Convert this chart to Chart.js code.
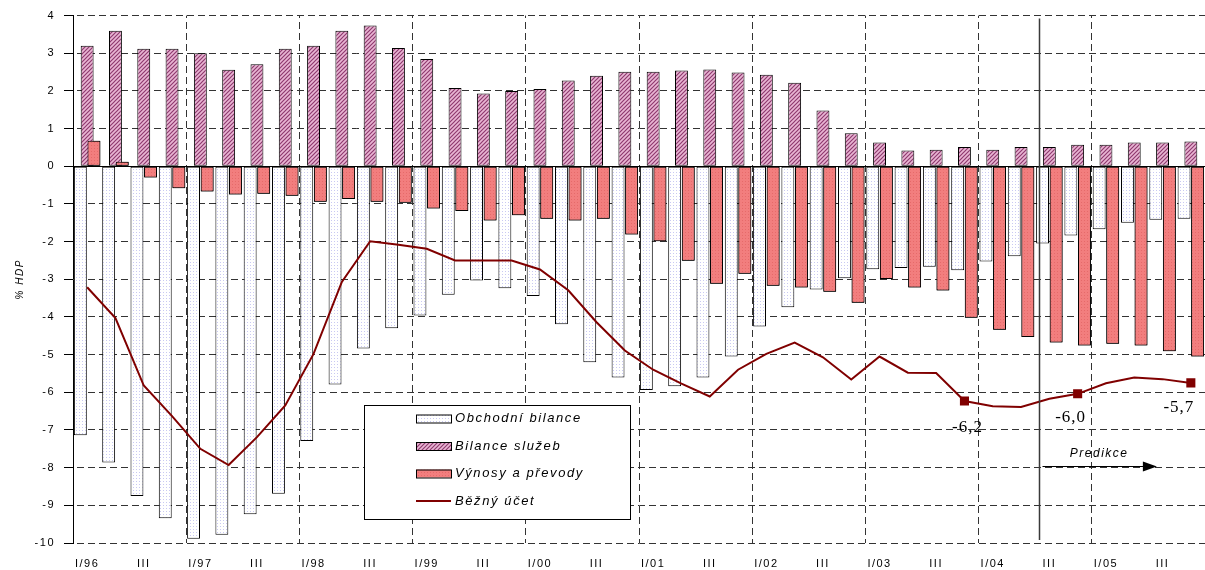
<!DOCTYPE html>
<html>
<head>
<meta charset="utf-8">
<script src="https://cdn.jsdelivr.net/npm/chart.js@4/dist/chart.umd.min.js"></script>
<style>
  html, body { margin: 0; padding: 0; background: #fff; overflow: hidden; }
  #wrap { width: 1205px; height: 570px; overflow: hidden; }
</style>
</head>
<body>
<div id="wrap"><canvas id="chartBilance" width="1212" height="570"></canvas></div>
<script>
// ctvrtleti I/96 - IV/05
const quarterLabels = [
  'I/96', '', 'III', '', 'I/97', '', 'III', '', 'I/98', '', 'III', '',
  'I/99', '', 'III', '', 'I/00', '', 'III', '', 'I/01', '', 'III', '',
  'I/02', '', 'III', '', 'I/03', '', 'III', '', 'I/04', '', 'III', '',
  'I/05', '', 'III', ''
];

const obchodniBilance = [
  -7.14, -7.86, -8.75, -9.34, -9.89, -9.78, -9.24, -8.69, -7.29, -5.79,
  -4.84, -4.30, -3.96, -3.41, -3.03, -3.24, -3.44, -4.19, -5.20, -5.61,
  -5.94, -5.84, -5.61, -5.05, -4.25, -3.74, -3.27, -2.97, -2.73, -2.70,
  -2.67, -2.76, -2.53, -2.39, -2.05, -1.84, -1.67, -1.50, -1.42, -1.39
];

const bilanceSluzeb = [
  3.20, 3.60, 3.12, 3.12, 3.00, 2.56, 2.71, 3.12, 3.20, 3.60,
  3.74, 3.14, 2.85, 2.08, 1.93, 2.00, 2.05, 2.28, 2.40, 2.51,
  2.51, 2.54, 2.57, 2.49, 2.43, 2.22, 1.48, 0.88, 0.63, 0.42,
  0.44, 0.51, 0.44, 0.51, 0.51, 0.57, 0.57, 0.63, 0.63, 0.66
];

const vynosyPrevody = [
  0.68, 0.12, -0.30, -0.58, -0.67, -0.75, -0.73, -0.78, -0.94, -0.87,
  -0.94, -0.97, -1.12, -1.19, -1.44, -1.30, -1.39, -1.44, -1.39, -1.81,
  -1.99, -2.51, -3.12, -2.85, -3.17, -3.22, -3.33, -3.62, -2.99, -3.22,
  -3.30, -4.02, -4.34, -4.53, -4.68, -4.76, -4.71, -4.76, -4.91, -5.05
];

const beznyUcet = [
  -3.21, -4.03, -5.82, -6.63, -7.50, -7.93, -7.19, -6.35, -4.98, -3.07,
  -1.99, -2.08, -2.19, -2.50, -2.50, -2.50, -2.74, -3.29, -4.14, -4.89,
  -5.40, -5.77, -6.11, -5.40, -4.98, -4.68, -5.07, -5.66, -5.05, -5.48,
  -5.49, -6.23, -6.37, -6.39, -6.17, -6.04, -5.76, -5.61, -5.65, -5.75
];

// body s popiskem (rocni hodnoty)
const markedPoints = [31, 35, 39];
const markedTexts = ['-6,2', '-6,0', '-5,7'];

const yTicks = { min: -10, max: 4, step: 1 };
const predictionStart = 33.63; // hranice predikce (index ctvrtleti)
const predictionText = 'Predikce';

const SANS = "'Liberation Sans', Arial, sans-serif";
const SERIF = "'Liberation Serif', 'Times New Roman', serif";

// vzorky vyplni
function makePattern(w, h, bg, draw) {
  const c = document.createElement('canvas');
  c.width = w; c.height = h;
  const g = c.getContext('2d');
  if (bg) {
    g.fillStyle = bg;
    g.fillRect(0, 0, w, h);
  }
  draw(g);
  return g.createPattern(c, 'repeat');
}

const dotsBlue = makePattern(3, 3, '#ffffff', g => {
  g.fillStyle = '#c9c9f2';
  g.fillRect(1, 1, 1, 1);
});

const hatchPink = makePattern(4, 4, '#e9b6d4', g => {
  g.strokeStyle = '#8f3a6f';
  g.lineWidth = 1.2;
  g.beginPath();
  g.moveTo(0, 4); g.lineTo(4, 0);
  g.moveTo(-1, 1); g.lineTo(1, -1);
  g.moveTo(3, 5); g.lineTo(5, 3);
  g.stroke();
});

const dotsRed = makePattern(3, 3, '#f27e7e', g => {
  g.fillStyle = '#e66a6a';
  g.fillRect(1, 1, 1, 1);
});

// carkovane mrizky jako vzorek
const dashH = makePattern(11, 1, null, g => {
  g.fillStyle = '#333';
  g.fillRect(0, 0, 7, 1);
});
const dashV = makePattern(1, 11, null, g => {
  g.fillStyle = '#333';
  g.fillRect(0, 0, 1, 7);
});

const extrasPlugin = {
  id: 'extras',
  beforeDraw(chart) {
    chart.ctx.letterSpacing = '1.5px';
  },
  afterDatasetDraw(chart, args) {
    // vynosy maji byt nad bilanci sluzeb
    if (args.index === 1) chart.getDatasetMeta(2).controller.draw();
  },
  afterDatasetsDraw(chart) {
    const { ctx, chartArea: a, scales: { x, y } } = chart;
    ctx.save();
    // nulova osa
    const y0 = Math.round(y.getPixelForValue(0)) + 0.5;
    ctx.strokeStyle = '#000';
    ctx.lineWidth = 1.2;
    ctx.beginPath();
    ctx.moveTo(a.left, y0);
    ctx.lineTo(a.right, y0);
    ctx.stroke();

    // hranice predikce
    const px = Math.round(x.getPixelForValue(predictionStart)) + 0.5;
    ctx.strokeStyle = '#3a3a3a';
    ctx.lineWidth = 1.5;
    ctx.beginPath();
    ctx.moveTo(px, a.top + 3);
    ctx.lineTo(px, a.bottom - 3);
    ctx.stroke();

    // sipka predikce
    const ay = Math.round(y.getPixelForValue(-7.95)) + 0.5;
    const ax2 = x.getPixelForValue(37.8);
    ctx.strokeStyle = '#000';
    ctx.lineWidth = 1;
    ctx.beginPath();
    ctx.moveTo(px + 3, ay);
    ctx.lineTo(ax2 - 10, ay);
    ctx.stroke();
    ctx.fillStyle = '#000';
    ctx.beginPath();
    ctx.moveTo(ax2, ay);
    ctx.lineTo(ax2 - 14, ay - 5);
    ctx.lineTo(ax2 - 14, ay + 5);
    ctx.closePath();
    ctx.fill();

    ctx.letterSpacing = '1.5px';
    ctx.font = 'italic 12px ' + SANS;
    ctx.textAlign = 'center';
    ctx.textBaseline = 'alphabetic';
    ctx.fillText(predictionText, (px + ax2) / 2 + 1, ay - 10);

    // popisky bodu
    const meta = chart.getDatasetMeta(3);
    const shifts = [[3, 31], [-7, 28], [-12, 29]];
    ctx.letterSpacing = '1px';
    ctx.font = '17px ' + SERIF;
    markedPoints.forEach((idx, k) => {
      const pt = meta.data[idx];
      ctx.fillText(markedTexts[k], pt.x + shifts[k][0], pt.y + shifts[k][1]);
    });
    ctx.restore();
  },
  afterDraw(chart) {
    const { ctx } = chart;
    const box = { x: 364, y: 405, w: 266, h: 114 };
    ctx.save();
    ctx.fillStyle = '#fff';
    ctx.fillRect(box.x, box.y, box.w, box.h);
    ctx.strokeStyle = '#000';
    ctx.lineWidth = 1;
    ctx.strokeRect(box.x + 0.5, box.y + 0.5, box.w, box.h);

    ctx.letterSpacing = '1.6px';
    ctx.font = 'italic 13px ' + SANS;
    ctx.textBaseline = 'middle';
    ctx.textAlign = 'left';
    chart.data.datasets.forEach((ds, i) => {
      const ry = box.y + 13.5 + i * 27.5;
      const sx = box.x + 52;
      if (ds.type === 'line') {
        ctx.strokeStyle = ds.borderColor;
        ctx.lineWidth = 2;
        ctx.beginPath();
        ctx.moveTo(sx, ry);
        ctx.lineTo(sx + 35, ry);
        ctx.stroke();
      } else {
        ctx.fillStyle = ds.backgroundColor;
        ctx.fillRect(sx, ry - 4, 35, 8);
        ctx.strokeStyle = '#000';
        ctx.lineWidth = 1;
        ctx.strokeRect(sx + 0.5, ry - 3.5, 35, 8);
      }
      ctx.fillStyle = '#000';
      ctx.fillText(ds.label, box.x + 91, ry);
    });
    ctx.restore();
  }
};

const barCommon = {
  type: 'bar',
  borderColor: '#000',
  borderWidth: 1,
  borderSkipped: false,
  barPercentage: 1.9,
  categoryPercentage: 0.72
};

const chart = new Chart(document.getElementById('chartBilance'), {
  data: {
    labels: quarterLabels,
    datasets: [
      { ...barCommon, label: 'Obchodní bilance', data: obchodniBilance, backgroundColor: dotsBlue, order: 1 },
      { ...barCommon, label: 'Bilance služeb', data: bilanceSluzeb, backgroundColor: hatchPink, order: 2 },
      { ...barCommon, label: 'Výnosy a převody', data: vynosyPrevody, backgroundColor: dotsRed, order: 3 },
      {
        type: 'line',
        label: 'Běžný účet',
        data: beznyUcet,
        borderColor: '#800000',
        borderWidth: 2,
        tension: 0,
        pointStyle: 'rect',
        pointRadius: c => markedPoints.includes(c.dataIndex) ? 5 : 0,
        pointBackgroundColor: '#800000',
        pointBorderColor: '#800000',
        order: 0
      }
    ]
  },
  options: {
    responsive: false,
    animation: false,
    layout: { padding: 0 },
    plugins: {
      legend: { display: false },
      tooltip: { enabled: false }
    },
    scales: {
      x: {
        grid: {
          offset: true,
          drawTicks: false,
          color: c => (c.index && c.index % 4 === 0) ? dashV : 'rgba(0,0,0,0)'
        },
        border: { color: 'rgba(0,0,0,0)' },
        ticks: {
          autoSkip: false,
          maxRotation: 0,
          padding: 14,
          color: '#000',
          font: { family: SANS, size: 11 }
        },
        afterFit: s => { s.height = 27; }
      },
      y: {
        min: yTicks.min,
        max: yTicks.max,
        ticks: {
          stepSize: yTicks.step,
          padding: 9,
          color: '#000',
          font: { family: SANS, size: 11 }
        },
        grid: {
          color: dashH,
          tickColor: '#000',
          tickLength: 9
        },
        border: { color: '#000' },
        title: {
          display: true,
          text: '% HDP',
          color: '#000',
          font: { family: SANS, size: 10, style: 'italic' },
          padding: { top: 14, bottom: 0 }
        },
        afterFit: s => { s.width = 73; }
      }
    }
  },
  plugins: [extrasPlugin]
});
</script>
</body>
</html>
